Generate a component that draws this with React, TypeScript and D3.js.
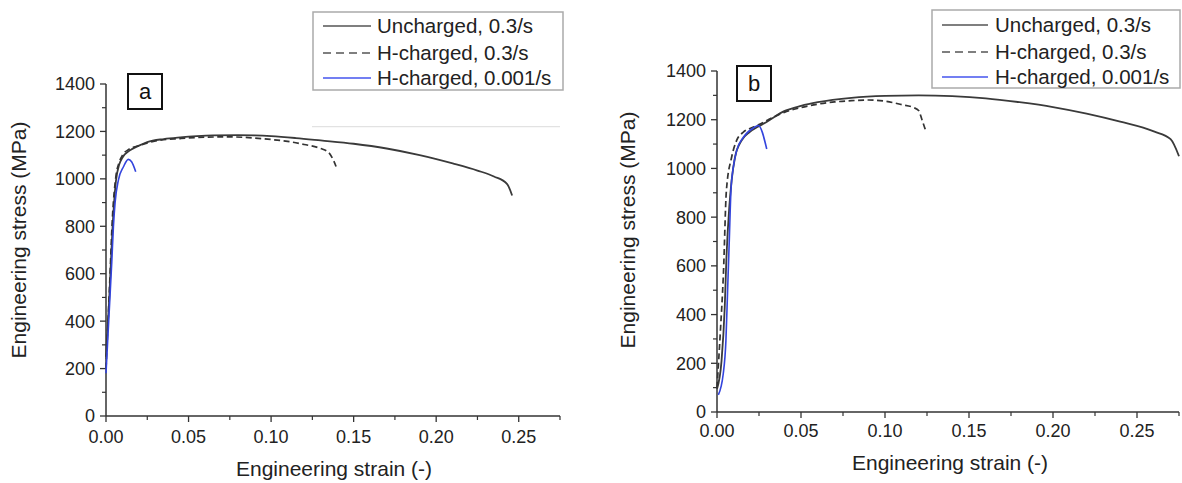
import React from "react";
import * as d3 from "d3";

type Pt = [number, number];

const seriesNames = ["Uncharged, 0.3/s", "H-charged, 0.3/s", "H-charged, 0.001/s"];
const xTicks = [0, 0.05, 0.1, 0.15, 0.2, 0.25];
const xMinorTicks = [0.025, 0.075, 0.125, 0.175, 0.225, 0.275];
const yTicks = [0, 200, 400, 600, 800, 1000, 1200, 1400];
const yMinorTicks = [100, 300, 500, 700, 900, 1100, 1300];

// Panel a
const unchargedA: Pt[] = [
  [0, 250], [0.002, 500], [0.004, 800], [0.006, 990], [0.008, 1060], [0.01, 1090],
  [0.0145, 1120], [0.02, 1140], [0.025, 1155], [0.035, 1168], [0.045, 1175],
  [0.055, 1180], [0.065, 1183], [0.08, 1184], [0.09, 1183], [0.1, 1180],
  [0.115, 1172], [0.13, 1162], [0.15, 1148], [0.17, 1128], [0.19, 1100],
  [0.21, 1065], [0.225, 1035], [0.235, 1010], [0.243, 978], [0.246, 930],
];
const hChargedFastA: Pt[] = [
  [0, 200], [0.002, 520], [0.004, 850], [0.006, 1010], [0.008, 1070], [0.01, 1100],
  [0.014, 1125], [0.02, 1140], [0.03, 1160], [0.045, 1170], [0.06, 1176],
  [0.075, 1177], [0.09, 1172], [0.1, 1166], [0.11, 1158], [0.12, 1145],
  [0.13, 1128], [0.135, 1110], [0.138, 1075], [0.14, 1040],
];
const hChargedSlowA: Pt[] = [
  [0, 180], [0.0035, 650], [0.0045, 800], [0.0055, 900], [0.0075, 995],
  [0.0105, 1050], [0.0135, 1082], [0.0155, 1072], [0.018, 1030],
];

// Panel b
const unchargedB: Pt[] = [
  [0, 95], [0.0027, 210], [0.0046, 430], [0.0056, 630], [0.0073, 840], [0.0087, 950],
  [0.0107, 1045], [0.0147, 1115], [0.0196, 1150], [0.0246, 1172], [0.03, 1193],
  [0.04, 1235], [0.05, 1257], [0.06, 1272], [0.08, 1290], [0.1, 1298], [0.12, 1300],
  [0.14, 1297], [0.16, 1288], [0.18, 1272], [0.2, 1252], [0.22, 1225], [0.24, 1192],
  [0.26, 1152], [0.27, 1120], [0.275, 1050],
];
const hChargedFastB: Pt[] = [
  [0, 100], [0.002, 330], [0.0038, 565], [0.0056, 910], [0.0087, 1046],
  [0.0117, 1115], [0.0157, 1149], [0.02, 1165], [0.025, 1180], [0.03, 1198],
  [0.04, 1230], [0.05, 1250], [0.06, 1264], [0.07, 1273], [0.08, 1278],
  [0.09, 1281], [0.1, 1276], [0.11, 1262], [0.117, 1250], [0.12, 1238],
  [0.122, 1200], [0.124, 1160],
];
const hChargedSlowB: Pt[] = [
  [0.0008, 70], [0.0037, 156], [0.0053, 292], [0.0063, 497], [0.0073, 702],
  [0.0083, 908], [0.0097, 1004], [0.0117, 1073], [0.0157, 1128], [0.0216, 1166],
  [0.0246, 1176], [0.0296, 1080],
];

const FONT = "'Liberation Sans', Arial, sans-serif";
const AXIS = "#333";
const styles = [
  { stroke: "#3a3a3a", width: 1.8, dash: "", legendDash: "" },
  { stroke: "#333", width: 1.7, dash: "6,3.5", legendDash: "8,5" },
  { stroke: "#3344dd", width: 1.6, dash: "", legendDash: "" },
];

interface PanelProps {
  label: string;
  x0: number; x1: number; y0: number; y1: number;
  series: Pt[][];
  tickOff: number;
  yTitle: [number, number];
  xTitle: [number, number];
  box: [number, number];
  legend: [number, number, number, number];
  legendRows: number[];
  legendLine: [number, number];
  legendText: number;
  faint?: number;
}

function Panel(p: PanelProps) {
  const x = d3.scaleLinear().domain([0, 0.275]).range([p.x0, p.x1]);
  const y = d3.scaleLinear().domain([0, 1400]).range([p.y0, p.y1]);
  const line = d3.line<Pt>().x((d) => x(d[0])).y((d) => y(d[1])).curve(d3.curveMonotoneX);
  return (
    <g>
      {p.faint !== undefined && (
        <line x1={312} x2={560} y1={y(p.faint)} y2={y(p.faint)} stroke="#e2e2e2" strokeWidth={1.2} />
      )}
      {/* axes */}
      <line x1={p.x0} x2={p.x0} y1={p.y0} y2={p.y1} stroke={AXIS} strokeWidth={1.5} />
      <line x1={p.x0} x2={p.x1} y1={p.y0} y2={p.y0} stroke={AXIS} strokeWidth={1.5} />
      {xTicks.map((t) => (
        <g key={"xt" + t}>
          <line x1={x(t)} x2={x(t)} y1={p.y0} y2={p.y0 + 6} stroke={AXIS} strokeWidth={1.3} />
          <text x={x(t)} y={p.y0 + p.tickOff} textAnchor="middle" fontSize={18} fill="#222" fontFamily={FONT}>
            {t.toFixed(2)}
          </text>
        </g>
      ))}
      {xMinorTicks.map((t) => (
        <line key={"xm" + t} x1={x(t)} x2={x(t)} y1={p.y0} y2={p.y0 + 4} stroke={AXIS} strokeWidth={1.2} />
      ))}
      {yTicks.map((t) => (
        <g key={"yt" + t}>
          <line x1={p.x0 - 6} x2={p.x0} y1={y(t)} y2={y(t)} stroke={AXIS} strokeWidth={1.3} />
          <text x={p.x0 - 11} y={y(t)} dy="0.36em" textAnchor="end" fontSize={18} fill="#222" fontFamily={FONT}>
            {t}
          </text>
        </g>
      ))}
      {yMinorTicks.map((t) => (
        <line key={"ym" + t} x1={p.x0 - 4} x2={p.x0} y1={y(t)} y2={y(t)} stroke={AXIS} strokeWidth={1.2} />
      ))}
      {/* titles */}
      <text
        transform={`translate(${p.yTitle[0]},${p.yTitle[1]}) rotate(-90)`}
        dy="0.35em" textAnchor="middle" fontSize={21} fill="#222" fontFamily={FONT}
      >
        Engineering stress (MPa)
      </text>
      <text x={p.xTitle[0]} y={p.xTitle[1]} dy="0.35em" textAnchor="middle" fontSize={21} fill="#222" fontFamily={FONT}>
        Engineering strain (-)
      </text>
      {/* curves */}
      {p.series.map((s, i) => (
        <path key={"s" + i} d={line(s) || ""} fill="none" stroke={styles[i].stroke}
          strokeWidth={styles[i].width} strokeDasharray={styles[i].dash || undefined} />
      ))}
      {/* panel label box */}
      <rect x={p.box[0]} y={p.box[1]} width={34} height={35} fill="white" stroke="#111" strokeWidth={2} />
      <text x={p.box[0] + 17} y={p.box[1] + 17.5} dy="0.35em" textAnchor="middle" fontSize={22} fill="#111" fontFamily={FONT}>
        {p.label}
      </text>
      {/* legend */}
      <rect x={p.legend[0]} y={p.legend[1]} width={p.legend[2]} height={p.legend[3]} fill="white" stroke="#aaa" strokeWidth={1.5} />
      {seriesNames.map((n, i) => (
        <g key={"lg" + i}>
          <line x1={p.legendLine[0]} x2={p.legendLine[1]} y1={p.legendRows[i]} y2={p.legendRows[i]}
            stroke={i === 2 ? "#4455ee" : "#555"} strokeWidth={1.6} strokeDasharray={styles[i].legendDash || undefined} />
          <text x={p.legendText} y={p.legendRows[i]} dy="0.35em" fontSize={20.5} fill="#222" fontFamily={FONT}>
            {n}
          </text>
        </g>
      ))}
    </g>
  );
}

export default function App() {
  return (
    <svg width={1182} height={483} style={{ position: "absolute", left: 0, top: 0, background: "white" }}>
      <rect width={1182} height={483} fill="white" />
      <Panel
        label="a" x0={106} x1={560} y0={416} y1={84}
        series={[unchargedA, hChargedFastA, hChargedSlowA]}
        tickOff={27} yTitle={[19, 240]} xTitle={[334, 469]} box={[128, 74]}
        legend={[313, 12, 250, 78]} legendRows={[26, 53, 78]} legendLine={[323, 371]} legendText={377}
        faint={1220}
      />
      <Panel
        label="b" x0={717} x1={1179} y0={412} y1={71}
        series={[unchargedB, hChargedFastB, hChargedSlowB]}
        tickOff={25} yTitle={[628, 230]} xTitle={[950, 463]} box={[737, 66]}
        legend={[932, 10, 248, 78]} legendRows={[25, 52, 77]} legendLine={[942, 988]} legendText={995}
      />
    </svg>
  );
}
